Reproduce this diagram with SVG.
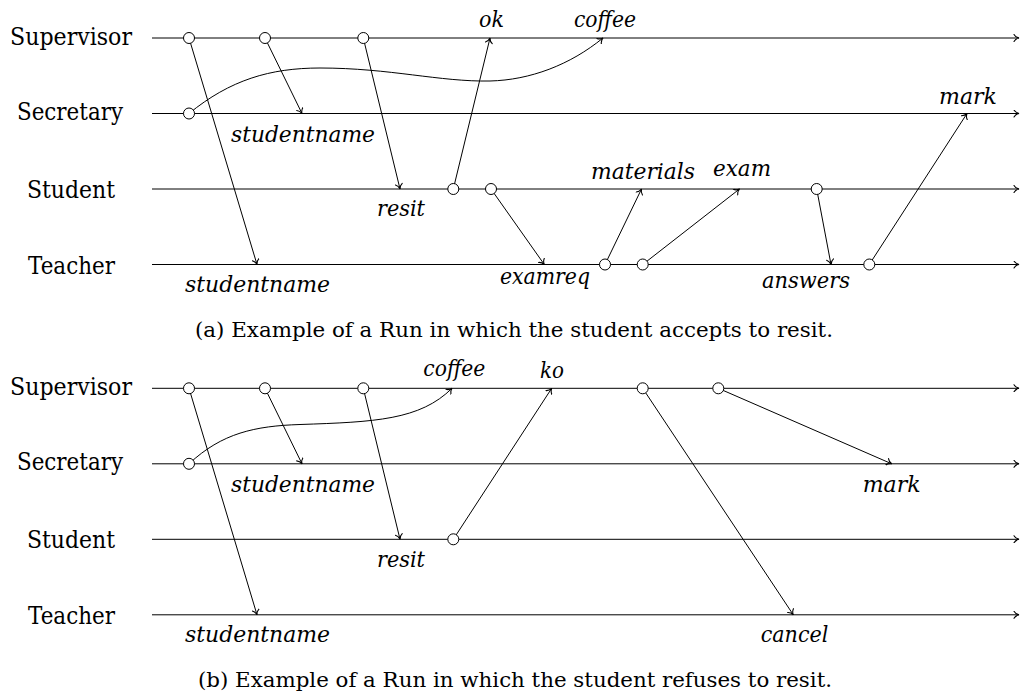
<svg xmlns="http://www.w3.org/2000/svg" width="1023" height="695" viewBox="0 0 1023 695">
<style>
.life{stroke:#000;stroke-width:1;fill:none;marker-end:url(#ah)}
.msg{stroke:#000;stroke-width:1;fill:none;marker-end:url(#ah)}
.ev{fill:#fff;stroke:#000;stroke-width:1}
.lane{font-family:DejaVu Serif, serif;font-size:24px;fill:#000}
.lbl{font-family:DejaVu Serif, serif;font-style:italic;font-size:23px;fill:#000}
.cap{font-family:DejaVu Serif, serif;font-size:20px;fill:#000}
</style>
<defs>
<marker id="ah" viewBox="-6 -4 7 8" refX="0" refY="0" markerWidth="7" markerHeight="8" markerUnits="userSpaceOnUse" orient="auto">
<path d="M -5 -3.5 C -3.8 -1.4 -1.3 -0.3 0 0 C -1.3 0.3 -3.8 1.4 -5 3.5" fill="none" stroke="#000" stroke-width="1.1" stroke-linecap="round"/>
</marker>
</defs>

<g id="lanes-a">
<g id="lane-a-supervisor"><text class="lane" x="10" y="44.5" textLength="122" lengthAdjust="spacingAndGlyphs">Supervisor</text><line class="life" x1="152" y1="38" x2="1019" y2="38"/></g>
<g id="lane-a-secretary"><text class="lane" x="17" y="120" textLength="106" lengthAdjust="spacingAndGlyphs">Secretary</text><line class="life" x1="152" y1="113.5" x2="1019" y2="113.5"/></g>
<g id="lane-a-student"><text class="lane" x="27" y="198" textLength="88" lengthAdjust="spacingAndGlyphs">Student</text><line class="life" x1="152" y1="189" x2="1019" y2="189"/></g>
<g id="lane-a-teacher"><text class="lane" x="28" y="273.5" textLength="87" lengthAdjust="spacingAndGlyphs">Teacher</text><line class="life" x1="152" y1="264.5" x2="1019" y2="264.5"/></g>
</g>

<g id="lanes-b">
<g id="lane-b-supervisor"><text class="lane" x="10" y="394.8" textLength="122" lengthAdjust="spacingAndGlyphs">Supervisor</text><line class="life" x1="152" y1="388.3" x2="1019" y2="388.3"/></g>
<g id="lane-b-secretary"><text class="lane" x="17" y="470.3" textLength="106" lengthAdjust="spacingAndGlyphs">Secretary</text><line class="life" x1="152" y1="463.8" x2="1019" y2="463.8"/></g>
<g id="lane-b-student"><text class="lane" x="27" y="548.3" textLength="88" lengthAdjust="spacingAndGlyphs">Student</text><line class="life" x1="152" y1="539.3" x2="1019" y2="539.3"/></g>
<g id="lane-b-teacher"><text class="lane" x="28" y="623.8" textLength="87" lengthAdjust="spacingAndGlyphs">Teacher</text><line class="life" x1="152" y1="614.8" x2="1019" y2="614.8"/></g>
</g>

<g id="connectors">
<line class="msg" x1="189" y1="38" x2="257" y2="264.5"/>
<line class="msg" x1="265" y1="38" x2="302" y2="113.5"/>
<line class="msg" x1="363.3" y1="38" x2="400" y2="189"/>
<line class="msg" x1="453.3" y1="189" x2="490" y2="38"/>
<path class="msg" d="M189,113.5 C230,80 270,68 320,68 C390,68 440,82 490,81 C530,80 570,65 603,38"/>
<line class="msg" x1="491" y1="189" x2="544.3" y2="264.5"/>
<line class="msg" x1="605" y1="264.5" x2="641.5" y2="189"/>
<line class="msg" x1="642.7" y1="264.5" x2="739.5" y2="189"/>
<line class="msg" x1="816.7" y1="189" x2="831" y2="264.5"/>
<line class="msg" x1="869.3" y1="264.5" x2="967" y2="113.5"/>
<line class="msg" x1="189" y1="388.3" x2="257" y2="614.8"/>
<line class="msg" x1="265" y1="388.3" x2="302" y2="463.8"/>
<line class="msg" x1="363.3" y1="388.3" x2="400" y2="539.3"/>
<path class="msg" d="M189,463.8 C222,433 255,426 300,424.5 C375,422 420,420 452,388.3"/>
<line class="msg" x1="453.3" y1="539.3" x2="551.7" y2="388.3"/>
<line class="msg" x1="642.7" y1="388.3" x2="793.3" y2="614.8"/>
<line class="msg" x1="718.3" y1="388.3" x2="891.7" y2="463.8"/>
<text class="lbl" x="479" y="26.7" textLength="25" lengthAdjust="spacingAndGlyphs">ok</text>
<text class="lbl" x="574" y="26.5" textLength="62" lengthAdjust="spacingAndGlyphs">coffee</text>
<text class="lbl" x="231" y="141.5" textLength="144" lengthAdjust="spacingAndGlyphs">studentname</text>
<text class="lbl" x="185" y="291.5" textLength="145" lengthAdjust="spacingAndGlyphs">studentname</text>
<text class="lbl" x="377" y="216" textLength="48" lengthAdjust="spacingAndGlyphs">resit</text>
<text class="lbl" x="500" y="284" textLength="90" lengthAdjust="spacingAndGlyphs">examreq</text>
<text class="lbl" x="591" y="179" textLength="104" lengthAdjust="spacingAndGlyphs">materials</text>
<text class="lbl" x="713" y="175.5" textLength="58" lengthAdjust="spacingAndGlyphs">exam</text>
<text class="lbl" x="762" y="288" textLength="88" lengthAdjust="spacingAndGlyphs">answers</text>
<text class="lbl" x="939" y="103.5" textLength="58" lengthAdjust="spacingAndGlyphs">mark</text>
<text class="lbl" x="423.3" y="376" textLength="62" lengthAdjust="spacingAndGlyphs">coffee</text>
<text class="lbl" x="540" y="378.3" textLength="24" lengthAdjust="spacingAndGlyphs">ko</text>
<text class="lbl" x="231" y="491.7" textLength="144" lengthAdjust="spacingAndGlyphs">studentname</text>
<text class="lbl" x="185" y="641.7" textLength="145" lengthAdjust="spacingAndGlyphs">studentname</text>
<text class="lbl" x="377" y="566.5" textLength="48" lengthAdjust="spacingAndGlyphs">resit</text>
<text class="lbl" x="862.7" y="491.7" textLength="58" lengthAdjust="spacingAndGlyphs">mark</text>
<text class="lbl" x="760.7" y="641.7" textLength="67.6" lengthAdjust="spacingAndGlyphs">cancel</text>
</g>

<g id="events-a">
<g id="a-sup-1"><circle class="ev" cx="189" cy="38" r="5.5"/></g>
<g id="a-sup-2"><circle class="ev" cx="265" cy="38" r="5.5"/></g>
<g id="a-sup-3"><circle class="ev" cx="363.3" cy="38" r="5.5"/></g>
<g id="a-sec-1"><circle class="ev" cx="189" cy="113.5" r="5.5"/></g>
<g id="a-stu-1"><circle class="ev" cx="453.3" cy="189" r="5.5"/></g>
<g id="a-stu-2"><circle class="ev" cx="491" cy="189" r="5.5"/></g>
<g id="a-stu-3"><circle class="ev" cx="816.7" cy="189" r="5.5"/></g>
<g id="a-tea-1"><circle class="ev" cx="605" cy="264.5" r="5.5"/></g>
<g id="a-tea-2"><circle class="ev" cx="642.7" cy="264.5" r="5.5"/></g>
<g id="a-tea-3"><circle class="ev" cx="869.3" cy="264.5" r="5.5"/></g>
</g>

<g id="events-b">
<g id="b-sup-1"><circle class="ev" cx="189" cy="388.3" r="5.5"/></g>
<g id="b-sup-2"><circle class="ev" cx="265" cy="388.3" r="5.5"/></g>
<g id="b-sup-3"><circle class="ev" cx="363.3" cy="388.3" r="5.5"/></g>
<g id="b-sup-4"><circle class="ev" cx="642.7" cy="388.3" r="5.5"/></g>
<g id="b-sup-5"><circle class="ev" cx="718.3" cy="388.3" r="5.5"/></g>
<g id="b-sec-1"><circle class="ev" cx="189" cy="463.8" r="5.5"/></g>
<g id="b-stu-1"><circle class="ev" cx="453.3" cy="539.3" r="5.5"/></g>
</g>

<g id="captions">
<text class="cap" x="195" y="337" textLength="638" lengthAdjust="spacingAndGlyphs">(a) Example of a Run in which the student accepts to resit.</text>
<text class="cap" x="198" y="687" textLength="634" lengthAdjust="spacingAndGlyphs">(b) Example of a Run in which the student refuses to resit.</text>
</g>
</svg>
